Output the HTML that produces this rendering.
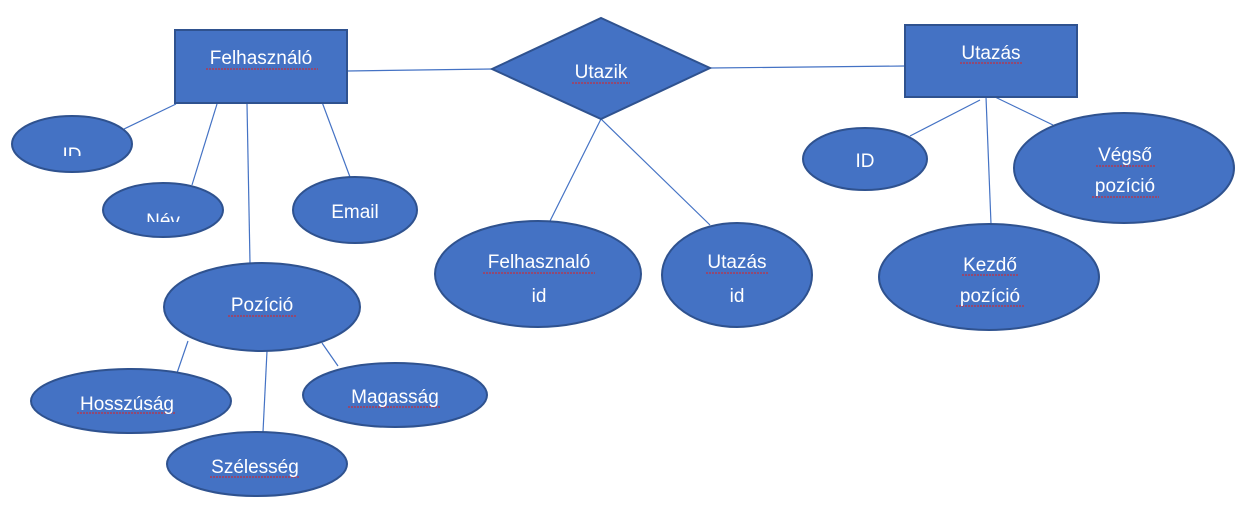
<!DOCTYPE html>
<html><head><meta charset="utf-8"><style>
html,body{margin:0;padding:0;background:#fff;width:1245px;height:526px;overflow:hidden}
text{font-family:"Liberation Sans",sans-serif;font-size:19px;fill:#fff;text-anchor:middle}
</style></head><body>
<svg width="1245" height="526" viewBox="0 0 1245 526" xmlns="http://www.w3.org/2000/svg">
<defs><clipPath id="c1"><rect x="0" y="0" width="1245" height="156"/></clipPath>
<clipPath id="c2"><rect x="0" y="0" width="1245" height="222"/></clipPath></defs>
<g stroke="#4472C4" stroke-width="1.2" fill="none">
<line x1="347" y1="71" x2="492" y2="69"/>
<line x1="710" y1="68" x2="905" y2="66"/>
<line x1="176" y1="104" x2="124" y2="129"/>
<line x1="217" y1="104" x2="192" y2="185"/>
<line x1="247" y1="104" x2="250" y2="263"/>
<line x1="322" y1="102" x2="350" y2="177"/>
<line x1="601" y1="119" x2="548" y2="225"/>
<line x1="601" y1="119" x2="710" y2="225"/>
<line x1="980" y1="100" x2="910" y2="136"/>
<line x1="986" y1="97" x2="991" y2="224"/>
<line x1="995" y1="97" x2="1053" y2="125"/>
<line x1="188" y1="341" x2="177" y2="373"/>
<line x1="267" y1="351" x2="263" y2="432"/>
<line x1="322" y1="343" x2="338" y2="366"/>
</g>
<g fill="#4472C4" stroke="#2F528F" stroke-width="2">
<rect x="175" y="30" width="172" height="73"/>
<polygon points="492,69 601,18 710,68 601,119"/>
<rect x="905" y="25" width="172" height="72"/>
<ellipse cx="72" cy="144" rx="60" ry="28"/>
<ellipse cx="163" cy="210" rx="60" ry="27"/>
<ellipse cx="355" cy="210" rx="62" ry="33"/>
<ellipse cx="262" cy="307" rx="98" ry="44"/>
<ellipse cx="131" cy="401" rx="100" ry="32"/>
<ellipse cx="257" cy="464" rx="90" ry="32"/>
<ellipse cx="395" cy="395" rx="92" ry="32"/>
<ellipse cx="538" cy="274" rx="103" ry="53"/>
<ellipse cx="737" cy="275" rx="75" ry="52"/>
<ellipse cx="865" cy="159" rx="62" ry="31"/>
<ellipse cx="1124" cy="168" rx="110" ry="55"/>
<ellipse cx="989" cy="277" rx="110" ry="53"/>
</g>
<g stroke="#E02020" stroke-width="1" stroke-dasharray="2,1">
<line x1="206" y1="69" x2="318" y2="69"/>
<line x1="572" y1="83" x2="630" y2="83"/>
<line x1="960" y1="63" x2="1023" y2="63"/>
<line x1="228" y1="316" x2="296" y2="316"/>
<line x1="77" y1="413" x2="176" y2="413"/>
<line x1="210" y1="477" x2="300" y2="477"/>
<line x1="348" y1="407" x2="441" y2="407"/>
<line x1="483" y1="273" x2="595" y2="273"/>
<line x1="706" y1="273" x2="769" y2="273"/>
<line x1="1096" y1="166" x2="1155" y2="166"/>
<line x1="1092" y1="197" x2="1159" y2="197"/>
<line x1="962" y1="275" x2="1019" y2="275"/>
<line x1="956" y1="306" x2="1024" y2="306"/>
</g>
<text x="261" y="64">Felhasználó</text>
<text x="601" y="78">Utazik</text>
<text x="991" y="59">Utazás</text>
<text x="72" y="161" clip-path="url(#c1)">ID</text>
<text x="163" y="227" clip-path="url(#c2)">Név</text>
<text x="355" y="218">Email</text>
<text x="262" y="311">Pozíció</text>
<text x="127" y="410">Hosszúság</text>
<text x="255" y="473">Szélesség</text>
<text x="395" y="403">Magasság</text>
<text x="539" y="268">Felhasznaló</text>
<text x="539" y="302">id</text>
<text x="737" y="268">Utazás</text>
<text x="737" y="302">id</text>
<text x="865" y="167">ID</text>
<text x="1125" y="161">Végső</text>
<text x="1125" y="192">pozíció</text>
<text x="990" y="271">Kezdő</text>
<text x="990" y="302">pozíció</text>
</svg>
</body></html>
